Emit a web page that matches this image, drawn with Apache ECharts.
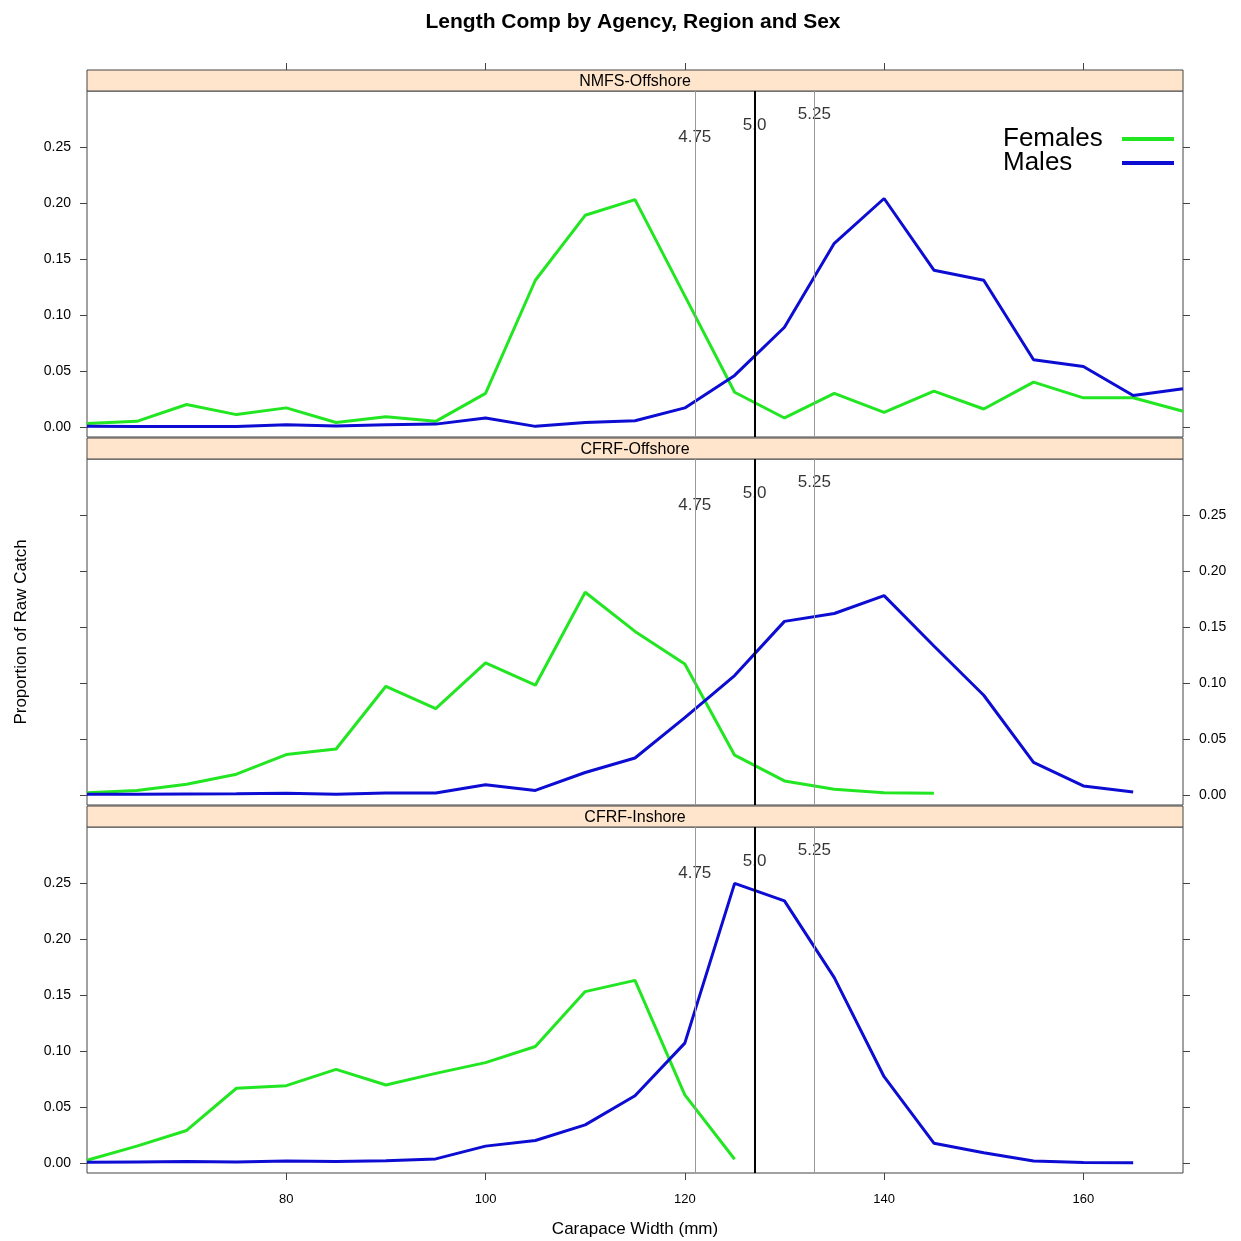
<!DOCTYPE html>
<html>
<head>
<meta charset="utf-8">
<script src="https://cdn.jsdelivr.net/npm/echarts@6/dist/echarts.min.js"></script>
<style>
html,body{margin:0;padding:0;background:#fff;}
#chart{width:1241px;height:1241px;}
</style>
</head>
<body>
<div id="chart"></div>
<script>
// carapace width bins (mm)
const widths = [60,65,70,75,80,85,90,95,100,105,110,115,120,125,130,135,140,145,150,155,160,165,170];

const panels = ['NMFS-Offshore','CFRF-Offshore','CFRF-Inshore'];

// proportions, one value per bin from 60 mm
const nmfsFemales = [0.003,0.005,0.020,0.011,0.017,0.004,0.009,0.005,0.030,0.131,0.189,0.203,0.117,0.031,0.008,0.030,0.013,0.032,0.016,0.040,0.026,0.026,0.014];
const nmfsMales = [0.0005,0.0003,0.0003,0.0004,0.002,0.0008,0.002,0.0025,0.008,0.0005,0.004,0.0055,0.017,0.046,0.089,0.164,0.204,0.140,0.131,0.060,0.054,0.028,0.034];
const offFemales = [0.002,0.004,0.0095,0.0185,0.036,0.041,0.097,0.077,0.118,0.098,0.181,0.146,0.117,0.0355,0.0125,0.005,0.002,0.0015];
const offMales = [0.0006,0.0006,0.0008,0.001,0.0015,0.0006,0.0018,0.0018,0.009,0.004,0.020,0.033,0.069,0.1066,0.155,0.162,0.178,0.133,0.089,0.029,0.008,0.0027];
const inFemales = [0.0024,0.015,0.029,0.0667,0.069,0.0836,0.0696,0.080,0.0896,0.104,0.153,0.163,0.0607,0.0033];
const inMales = [0.0006,0.0009,0.0012,0.0009,0.0018,0.0012,0.002,0.0036,0.015,0.020,0.034,0.060,0.107,0.2497,0.234,0.1655,0.077,0.0176,0.009,0.0018,0.0003,0.0001];

const females = [nmfsFemales, offFemales, inFemales];
const males = [nmfsMales, offMales, inMales];

// legal size reference lines (inches -> mm)
const refWidths = [121, 127, 133];
const refLabels = ['4.75', '5.0', '5.25'];
const refLabelY = [0.259, 0.269, 0.279];

const xTicks = [80,100,120,140,160];
const yTicks = [0,0.05,0.10,0.15,0.20,0.25];

const font = '"Liberation Sans", Arial, Helvetica, sans-serif';
const axisCol = '#444';
const green = '#22e622';
const blue = '#0c0cd2';

const L = 87, W = 1096, H = 346, STRIP = 21;
const tops = [91, 459, 827];

function pairs(vals){ return vals.map((v,i)=>[widths[i], v]); }

let grids = [], xAxes = [], yAxes = [], series = [], graphics = [];

panels.forEach((name, g) => {
  grids.push({left:L, top:tops[g], width:W, height:H, show:true, borderColor:axisCol, borderWidth:1, backgroundColor:'transparent'});

  let xa = {gridIndex:g, type:'value', min:60, max:170, splitLine:{show:false},
    axisLine:{show:false, onZero:false},
    axisTick:{show:false}, axisLabel:{show:false}};
  if(g==0){
    xa.position = 'top'; xa.offset = STRIP;
    xa.axisTick = {show:true, customValues:xTicks, inside:false, length:7, lineStyle:{color:axisCol}};
  }
  if(g==2){
    xa.position = 'bottom';
    xa.axisTick = {show:true, customValues:xTicks, inside:false, length:7, lineStyle:{color:axisCol}};
    xa.axisLabel = {show:true, customValues:xTicks, margin:20, fontSize:13, color:'#000', fontFamily:font};
    xa.name = 'Carapace Width (mm)'; xa.nameLocation = 'middle'; xa.nameGap = 48;
    xa.nameTextStyle = {fontSize:17, color:'#000', fontFamily:font};
  }
  xAxes.push(xa);

  ['left','right'].forEach(pos => {
    let showLab = (pos=='left' && g!=1) || (pos=='right' && g==1);
    let ya = {gridIndex:g, type:'value', position:pos, min:-0.009, max:0.30,
      splitLine:{show:false}, axisLine:{show:false, onZero:false},
      axisTick:{show:true, customValues:yTicks, inside:false, length:7, lineStyle:{color:axisCol}},
      axisLabel:{show:showLab, customValues:yTicks, margin:16, fontSize:14, color:'#000', fontFamily:font,
        formatter: v => v.toFixed(2)}};
    if(g==1 && pos=='left'){
      ya.name = 'Proportion of Raw Catch'; ya.nameLocation = 'middle'; ya.nameGap = 57;
      ya.nameTextStyle = {fontSize:17, color:'#000', fontFamily:font};
    }
    yAxes.push(ya);
  });

  // strip
  graphics.push({type:'rect', shape:{x:L, y:tops[g]-STRIP, width:W, height:STRIP},
    style:{fill:'#ffe5cc', stroke:axisCol, lineWidth:1}});
  graphics.push({type:'text', x:L+W/2, y:tops[g]-STRIP/2+1,
    style:{text:name, fill:'#000', font:'16px '+font, textAlign:'center', textVerticalAlign:'middle'}});

  // reference labels
  series.push({type:'scatter', xAxisIndex:g, yAxisIndex:2*g, symbolSize:0, z:1, silent:true,
    data: refWidths.map((x,i)=>({value:[x, refLabelY[i]], label:{formatter:refLabels[i]}})),
    label:{show:true, position:'inside', fontSize:17, color:'#000', fontFamily:font}});
  series.push({name:'Females', type:'line', xAxisIndex:g, yAxisIndex:2*g, data:pairs(females[g]),
    showSymbol:false, symbol:'none', lineStyle:{color:green, width:3}, itemStyle:{color:green}, z:2});
  series.push({name:'Males', type:'line', xAxisIndex:g, yAxisIndex:2*g, data:pairs(males[g]),
    showSymbol:false, symbol:'none', lineStyle:{color:blue, width:3}, itemStyle:{color:blue}, z:2});
  // reference lines
  series.push({type:'line', xAxisIndex:g, yAxisIndex:2*g, data:[], z:3, silent:true,
    markLine:{symbol:['none','none'], silent:true, animation:false, label:{show:false},
      data: refWidths.map((x,i)=>({xAxis:x, lineStyle:{color: i==1 ? '#000' : '#999', width: i==1 ? 2 : 1, type:'solid'}}))}});
});

const chart = echarts.init(document.getElementById('chart'));
chart.setOption({
  animation:false,
  backgroundColor:'#fff',
  title:{text:'Length Comp by Agency, Region and Sex', left:628, top:7, textAlign:'center',
    textStyle:{fontSize:21, fontWeight:'bold', color:'#000', fontFamily:font}},
  legend:{data:['Females','Males'], orient:'vertical', right:62, top:121, align:'right',
    icon:'rect', itemWidth:52, itemHeight:4, itemGap:-2, selectedMode:false,
    formatter:'{n|{name}}',
    textStyle:{color:'#000', fontFamily:font, fontSize:26,
      rich:{n:{width:100, align:'left', fontSize:26, color:'#000', fontFamily:font, padding:[0,14,0,0]}}}},
  grid:grids, xAxis:xAxes, yAxis:yAxes, series:series,
  graphic:graphics
});
</script>
</body>
</html>
